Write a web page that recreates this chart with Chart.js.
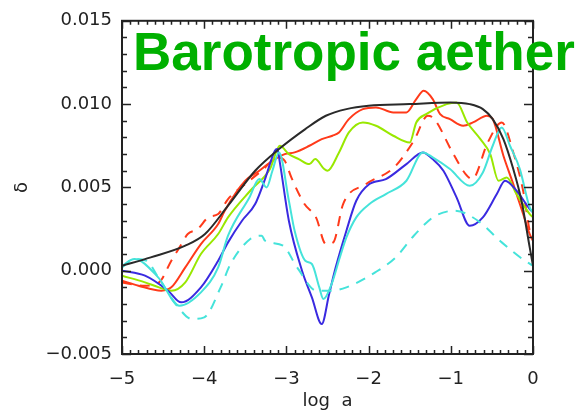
<!DOCTYPE html>
<html>
<head>
<meta charset="utf-8">
<script src="https://cdn.jsdelivr.net/npm/chart.js@4/dist/chart.umd.min.js"></script>
<style>
  html, body { margin: 0; padding: 0; background: #ffffff; }
  #wrap { width: 576px; height: 412px; position: relative; }
</style>
</head>
<body>
<div id="wrap"><canvas id="c" width="576" height="412"></canvas></div>
<script>
// ---- data ----
const titleText = "Barotropic aether";
const xLabel = "log  a";
const yLabel = "δ";
const xTickValues = [-5, -4, -3, -2, -1, 0];
const yTickValues = [-0.005, 0.000, 0.005, 0.010, 0.015];

const blackX = [-5, -4.65, -4.23, -3.99, -3.71, -3.38, -3.09, -2.77, -2.52, -2.27, -2.0, -1.5, -1.0, -0.77, -0.61, -0.49, -0.36, -0.24, -0.14, -0.04, 0];
const blackY = [0.0003, 0.0008, 0.0015, 0.0022, 0.0039, 0.0060, 0.0073, 0.0085, 0.0093, 0.0097, 0.0099, 0.0100, 0.0101, 0.0100, 0.0097, 0.0091, 0.0079, 0.0061, 0.0042, 0.0014, 0.0003];

const redX = [-5, -4.8, -4.52, -4.4, -4.23, -4.04, -3.83, -3.75, -3.5, -3.33, -3.17, -3.02, -2.9, -2.72, -2.57, -2.44, -2.36, -2.24, -2.07, -1.91, -1.7, -1.54, -1.42, -1.33, -1.22, -1.13, -1.01, -0.85, -0.73, -0.56, -0.49, -0.36, -0.24, -0.12, -0.04, 0];
const redY = [-0.0006, -0.0009, -0.0012, -0.0010, 0.0002, 0.0016, 0.0028, 0.0036, 0.0054, 0.0060, 0.0066, 0.0070, 0.0071, 0.0075, 0.0079, 0.0081, 0.0083, 0.0091, 0.0097, 0.0098, 0.0095, 0.0095, 0.0103, 0.0108, 0.0103, 0.0094, 0.0091, 0.0087, 0.0089, 0.0093, 0.0091, 0.0069, 0.0052, 0.0034, 0.0022, 0.0018];

const redDashX = [-5, -4.75, -4.55, -4.4, -4.3, -4.2, -4.08, -3.95, -3.83, -3.71, -3.5, -3.3, -3.1, -3.02, -2.94, -2.78, -2.64, -2.52, -2.43, -2.31, -2.03, -1.69, -1.45, -1.28, -1.2, -0.99, -0.82, -0.74, -0.55, -0.38, -0.24, -0.12, -0.04, 0];
const redDashY = [-0.0007, -0.0009, -0.0007, 0.0006, 0.0014, 0.0022, 0.0025, 0.0032, 0.0034, 0.0043, 0.0052, 0.0060, 0.0068, 0.0066, 0.0056, 0.0040, 0.0032, 0.0016, 0.0017, 0.0040, 0.0052, 0.0062, 0.0078, 0.0093, 0.0091, 0.0072, 0.0058, 0.0055, 0.0077, 0.0089, 0.0071, 0.0048, 0.0024, 0.0018];

const greenX = [-5, -4.72, -4.55, -4.4, -4.23, -4.04, -3.83, -3.71, -3.44, -3.2, -3.08, -2.97, -2.85, -2.72, -2.65, -2.54, -2.5, -2.36, -2.24, -2.07, -1.91, -1.7, -1.5, -1.42, -1.3, -1.05, -0.93, -0.8, -0.64, -0.52, -0.42, -0.32, -0.2, -0.04, 0];
const greenY = [-0.0003, -0.0007, -0.0010, -0.0012, -0.0007, 0.0010, 0.0022, 0.0032, 0.0048, 0.0061, 0.0075, 0.0070, 0.0067, 0.0064, 0.0067, 0.0061, 0.0060, 0.0071, 0.0083, 0.0089, 0.0087, 0.0081, 0.0077, 0.0089, 0.0094, 0.0100, 0.0101, 0.0089, 0.0079, 0.0070, 0.0054, 0.0056, 0.0046, 0.0034, 0.0032];

const blueX = [-5, -4.72, -4.44, -4.28, -4.04, -3.83, -3.71, -3.54, -3.38, -3.26, -3.14, -3.11, -3.08, -2.97, -2.81, -2.69, -2.57, -2.48, -2.4, -2.27, -2.15, -1.99, -1.79, -1.54, -1.34, -1.22, -1.09, -0.93, -0.77, -0.61, -0.44, -0.34, -0.2, -0.04, 0];
const blueY = [0.0000, -0.0003, -0.0012, -0.0019, -0.0010, 0.0006, 0.0017, 0.0030, 0.0040, 0.0055, 0.0072, 0.0073, 0.0065, 0.0030, 0.0000, -0.0016, -0.0032, -0.0014, 0.0002, 0.0024, 0.0042, 0.0052, 0.0055, 0.0064, 0.0071, 0.0067, 0.0060, 0.0044, 0.0027, 0.0032, 0.0046, 0.0054, 0.0048, 0.0037, 0.0035];

const cyanX = [-5, -4.85, -4.56, -4.3, -4.04, -3.83, -3.71, -3.45, -3.33, -3.24, -3.17, -3.09, -2.97, -2.9, -2.77, -2.69, -2.6, -2.55, -2.45, -2.35, -2.27, -2.15, -1.99, -1.79, -1.54, -1.34, -1.22, -1.01, -0.77, -0.61, -0.49, -0.38, -0.28, -0.16, -0.04, 0];
const cyanY = [0.0003, 0.0007, -0.0004, -0.0021, -0.0013, 0.0002, 0.0021, 0.0044, 0.0055, 0.0050, 0.0060, 0.0071, 0.0042, 0.0024, 0.0006, 0.0004, -0.0010, -0.0017, -0.0008, 0.0008, 0.0020, 0.0032, 0.0040, 0.0046, 0.0054, 0.0071, 0.0068, 0.0061, 0.0051, 0.0059, 0.0075, 0.0086, 0.0075, 0.0061, 0.0038, 0.0035];

const cyanDashX = [-5, -4.85, -4.7, -4.56, -4.3, -4.15, -4.0, -3.8, -3.68, -3.44, -3.3, -3.26, -3.04, -2.87, -2.63, -2.45, -2.27, -1.92, -1.67, -1.45, -1.27, -1.19, -0.95, -0.67, -0.38, -0.1, 0];
const cyanDashY = [0.0002, 0.0007, 0.0006, -0.0004, -0.0023, -0.0029, -0.0028, -0.0010, 0.0004, 0.0019, 0.0021, 0.0018, 0.0015, 0.0002, -0.0012, -0.0012, -0.0010, -0.0001, 0.0008, 0.0021, 0.0030, 0.0033, 0.0036, 0.0030, 0.0017, 0.0006, 0.0003];

// ---- build chart ----
function pts(xs, ys) { return xs.map((x, i) => ({ x: x, y: ys[i] })); }
function minus(s) { return String(s).replace('-', '\u2212'); }

const FONT = '"DejaVu Sans", sans-serif';
const INK = '#222222';

function ds(label, xs, ys, color, dashed) {
  return {
    label: label,
    data: pts(xs, ys),
    borderColor: color,
    borderWidth: 2,
    borderDash: dashed ? [10, 8] : [],
    pointRadius: 0,
    fill: false,
    cubicInterpolationMode: 'monotone'
  };
}

const framePlugin = {
  id: 'frame',
  afterDraw(chart) {
    const ctx = chart.ctx;
    const a = chart.chartArea;
    const xs = chart.scales.x, ys = chart.scales.y;
    ctx.save();
    ctx.strokeStyle = INK;
    ctx.lineWidth = 1.5;
    // ticks on x axis (bottom and top)
    for (let i = 0; i <= 50; i++) {
      const v = -5 + i * 0.1;
      const px = Math.round(xs.getPixelForValue(v)) + 0.5;
      const len = (i % 10 === 0) ? 8 : 4;
      ctx.beginPath();
      ctx.moveTo(px, a.bottom); ctx.lineTo(px, a.bottom - len);
      ctx.moveTo(px, a.top); ctx.lineTo(px, a.top + len);
      ctx.stroke();
    }
    // ticks on y axis (left and right)
    for (let i = 0; i <= 20; i++) {
      const v = -0.005 + i * 0.001;
      const py = Math.round(ys.getPixelForValue(v)) + 0.5;
      const len = (i % 5 === 0) ? 9 : 5;
      ctx.beginPath();
      ctx.moveTo(a.left, py); ctx.lineTo(a.left + len, py);
      ctx.moveTo(a.right, py); ctx.lineTo(a.right - len, py);
      ctx.stroke();
    }
    // frame
    ctx.lineWidth = 2;
    ctx.strokeRect(a.left, a.top, a.right - a.left, a.bottom - a.top);
    // title
    ctx.fillStyle = '#00b000';
    ctx.font = 'bold 53px "Liberation Sans", Arial, sans-serif';
    ctx.textBaseline = 'alphabetic';
    ctx.textAlign = 'left';
    ctx.fillText(titleText, 133, 70);
    ctx.restore();
  }
};

new Chart(document.getElementById('c'), {
  type: 'line',
  data: {
    datasets: [
      ds('black', blackX, blackY, '#2a2a2a', false),
      ds('cyan dashed', cyanDashX, cyanDashY, '#45e3da', true),
      ds('cyan', cyanX, cyanY, '#45e3da', false),
      ds('blue', blueX, blueY, '#3a2ae0', false),
      ds('green', greenX, greenY, '#99e800', false),
      ds('red dashed', redDashX, redDashY, '#ff3a1a', true),
      ds('red', redX, redY, '#ff3a1a', false)
    ]
  },
  options: {
    responsive: false,
    animation: false,
    devicePixelRatio: 1,
    layout: { padding: { left: 0, right: 43, top: 16, bottom: 0 } },
    plugins: { legend: { display: false }, tooltip: { enabled: false } },
    scales: {
      x: {
        type: 'linear',
        min: -5, max: 0,
        afterBuildTicks: (s) => { s.ticks = xTickValues.map(v => ({ value: v })); },
        afterFit: (s) => { s.height = 58; },
        grid: { display: false, drawTicks: false },
        border: { display: false },
        ticks: {
          autoSkip: false, maxRotation: 0, padding: 15,
          color: INK, font: { family: FONT, size: 18 },
          callback: (v) => minus(v)
        },
        title: {
          display: true, text: xLabel, color: INK,
          font: { family: FONT, size: 18 },
          padding: { top: 0, bottom: 0 }
        }
      },
      y: {
        type: 'linear',
        min: -0.005, max: 0.015,
        afterBuildTicks: (s) => { s.ticks = yTickValues.map(v => ({ value: v })); },
        afterFit: (s) => { s.width = 122; },
        grid: { display: false, drawTicks: false },
        border: { display: false },
        ticks: {
          autoSkip: false, padding: 10,
          color: INK, font: { family: FONT, size: 18 },
          callback: (v) => minus(Number(v).toFixed(3))
        },
        title: {
          display: true, text: yLabel, color: INK,
          font: { family: FONT, size: 18 },
          padding: { top: 12, bottom: 0 }
        }
      }
    }
  },
  plugins: [framePlugin]
});
</script>
</body>
</html>
